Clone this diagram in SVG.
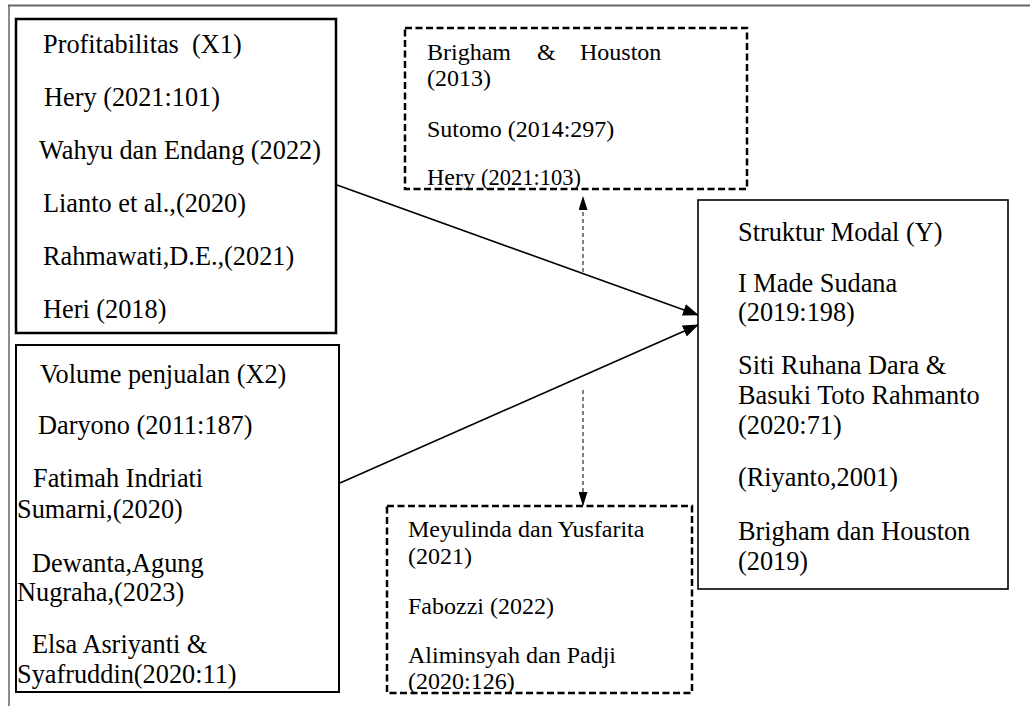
<svg xmlns="http://www.w3.org/2000/svg" width="1030" height="706" viewBox="0 0 1030 706">
<style>
text{font-family:"Liberation Serif","Times New Roman",serif;fill:#000}
.big{font-size:26.3px}
.med{font-size:24px}
.box{fill:#fff;stroke:#000}
.dbox{fill:none;stroke:#000;stroke-width:2.5;stroke-dasharray:7 3.5}
.conn{stroke:#000;stroke-width:1.6;fill:none}
.dconn{stroke:#000;stroke-width:1;fill:none;stroke-dasharray:4 3}
</style>
<defs>
<marker id="ah" markerUnits="userSpaceOnUse" markerWidth="16" markerHeight="12" refX="15" refY="6" orient="auto">
<path d="M0,0 L16,6 L0,12 z" fill="#000"/>
</marker>
<marker id="sah" markerUnits="userSpaceOnUse" markerWidth="14" markerHeight="9" refX="13" refY="4.5" orient="auto">
<path d="M0,0 L14,4.5 L0,9 z" fill="#000"/>
</marker>
</defs>
<rect width="1030" height="706" fill="#fff"/>
<g id="page-frame">
<line x1="8" y1="5.5" x2="1030" y2="5.5" stroke="#666" stroke-width="2"/>
<line x1="9" y1="5" x2="9" y2="706" stroke="#666" stroke-width="1.5"/>
</g>
<g id="connectors">
<line class="conn" x1="337" y1="185" x2="698" y2="315" marker-end="url(#ah)"/>
<line class="conn" x1="340" y1="483" x2="698" y2="325" marker-end="url(#ah)"/>
<line class="dconn" x1="583" y1="272" x2="583" y2="197" marker-end="url(#sah)"/>
<line class="dconn" x1="583" y1="390" x2="583" y2="505" marker-end="url(#sah)"/>
</g>
<g id="profitabilitas">
<rect class="box" x="16" y="19" width="320" height="314" stroke-width="2.5"/>
<text class="big" x="43" y="53" xml:space="preserve">Profitabilitas  (X1)</text>
<text class="big" x="44" y="106">Hery (2021:101)</text>
<text class="big" x="39" y="159">Wahyu dan Endang (2022)</text>
<text class="big" x="43" y="212">Lianto et al.,(2020)</text>
<text class="big" x="43" y="265">Rahmawati,D.E.,(2021)</text>
<text class="big" x="43" y="318">Heri (2018)</text>
</g>
<g id="volume-penjualan">
<rect class="box" x="16" y="345" width="323" height="347" stroke-width="2"/>
<text class="big" x="40" y="383">Volume penjualan (X2)</text>
<text class="big" x="38" y="434">Daryono (2011:187)</text>
<text class="big" x="33" y="487">Fatimah Indriati</text>
<text class="big" x="17" y="518">Sumarni,(2020)</text>
<text class="big" x="32" y="572">Dewanta,Agung</text>
<text class="big" x="17" y="601">Nugraha,(2023)</text>
<text class="big" x="32" y="653">Elsa Asriyanti &amp;</text>
<text class="big" x="17" y="683">Syafruddin(2020:11)</text>
</g>
<g id="top-references">
<rect class="dbox" x="405" y="28" width="342" height="161"/>
<text class="med" y="60"><tspan x="427">Brigham</tspan><tspan x="537">&amp;</tspan><tspan x="580">Houston</tspan></text>
<text class="med" x="427" y="86">(2013)</text>
<text class="med" x="427" y="137">Sutomo (2014:297)</text>
<text class="med" x="427" y="185">Hery <tspan font-size="22.5px">(2021:103)</tspan></text>
</g>
<g id="bottom-references">
<rect class="dbox" x="387" y="506" width="305" height="187"/>
<text class="med" x="408" y="537">Meyulinda dan Yusfarita</text>
<text class="med" x="408" y="564">(2021)</text>
<text class="med" x="408" y="614">Fabozzi (2022)</text>
<text class="med" x="408" y="663">Aliminsyah dan Padji</text>
<text class="med" x="408" y="689">(2020:126)</text>
</g>
<g id="struktur-modal">
<rect class="box" x="698" y="200" width="310" height="389" stroke-width="1.6"/>
<text class="big" x="738" y="241">Struktur Modal (Y)</text>
<text class="big" x="738" y="292">I Made Sudana</text>
<text class="big" x="738" y="321">(2019:198)</text>
<text class="big" x="738" y="374">Siti Ruhana Dara &amp;</text>
<text class="big" x="738" y="404">Basuki Toto Rahmanto</text>
<text class="big" x="738" y="434">(2020:71)</text>
<text class="big" x="738" y="486">(Riyanto,2001)</text>
<text class="big" x="738" y="540">Brigham dan Houston</text>
<text class="big" x="738" y="570">(2019)</text>
</g>
</svg>
